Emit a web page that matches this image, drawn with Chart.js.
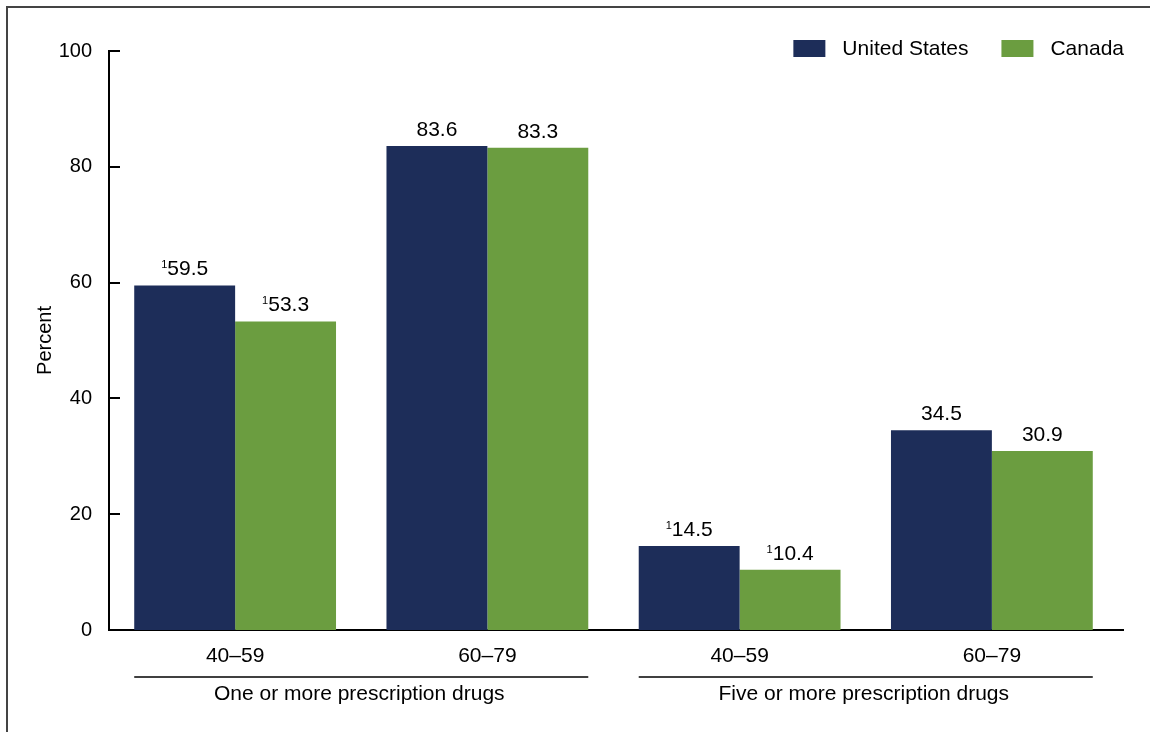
<!DOCTYPE html>
<html lang="en">
<head>
<meta charset="UTF-8">
<title>prescription drugs chart</title>
<script src="https://cdn.jsdelivr.net/npm/chart.js"></script>
<style>
  body { margin: 0; background: #fff; }
  #wrap { position: relative; width: 1150px; height: 732px; }
  #frame { position: absolute; left: 6px; top: 6px; right: 0; bottom: 0;
           border-left: 2px solid #444; border-top: 2px solid #444; pointer-events: none; }
</style>
</head>
<body>
<div id="wrap">
  <canvas id="myChart" width="1150" height="732"></canvas>
  <div id="frame"></div>
</div>
<script>
// age group tick labels and the two drug-count groups under them
const ageLabels = ['40–59', '60–79', '40–59', '60–79'];
const groupLabels = ['One or more prescription drugs', 'Five or more prescription drugs'];
const usValues = [59.5, 83.6, 14.5, 34.5];
const canadaValues = [53.3, 83.3, 10.4, 30.9];
// footnote 1 marker on these bars
const usNote = [true, false, true, false];
const canadaNote = [true, false, true, false];
const yTicks = [0, 20, 40, 60, 80, 100];

const FONT = '"Liberation Sans", Arial, sans-serif';
Chart.defaults.font.family = FONT;
Chart.defaults.color = '#000';

const notes = [usNote, canadaNote];

const extras = {
  id: 'extras',
  afterDraw(chart) {
    const ctx = chart.ctx;
    const area = chart.chartArea;
    const y = chart.scales.y;
    const axisX = area.left - 1;
    ctx.save();
    // inward tick marks on y axis
    ctx.strokeStyle = '#000';
    ctx.lineWidth = 2;
    yTicks.forEach(v => {
      const py = Math.round(y.getPixelForValue(v));
      ctx.beginPath();
      ctx.moveTo(axisX, py);
      ctx.lineTo(axisX + 12, py);
      ctx.stroke();
    });
    // x axis runs a bit past the last bar
    const by = Math.round(area.bottom);
    ctx.beginPath();
    ctx.moveTo(area.right - 1, by);
    ctx.lineTo(area.right + 6, by);
    ctx.stroke();

    // value labels with superscript footnotes
    chart.data.datasets.forEach((ds, di) => {
      const meta = chart.getDatasetMeta(di);
      meta.data.forEach((bar, i) => {
        const txt = ds.data[i].toFixed(1);
        const base = bar.y - 10;
        ctx.font = '21px ' + FONT;
        const mw = ctx.measureText(txt).width;
        let sw = 0;
        if (notes[di][i]) {
          ctx.font = '11px ' + FONT;
          sw = ctx.measureText('1').width;
        }
        const x0 = bar.x - (mw + sw) / 2;
        ctx.fillStyle = '#000';
        ctx.textAlign = 'left';
        ctx.textBaseline = 'alphabetic';
        if (sw) {
          ctx.font = '11px ' + FONT;
          ctx.fillText('1', x0, base - 7);
        }
        ctx.font = '21px ' + FONT;
        ctx.fillText(txt, x0 + sw, base);
      });
    });

    // group underlines and labels
    const m0 = chart.getDatasetMeta(0).data;
    const m1 = chart.getDatasetMeta(1).data;
    ctx.lineWidth = 1.5;
    ctx.strokeStyle = '#000';
    groupLabels.forEach((g, gi) => {
      const a = m0[gi * 2], b = m1[gi * 2 + 1];
      const x1 = a.x - a.width / 2, x2 = b.x + b.width / 2;
      ctx.beginPath();
      ctx.moveTo(x1, 677);
      ctx.lineTo(x2, 677);
      ctx.stroke();
      ctx.font = '21px ' + FONT;
      ctx.textAlign = 'center';
      ctx.textBaseline = 'middle';
      ctx.fillText(g, (x1 + x2) / 2 - 2, 694);
    });

    // legend, top right
    ctx.font = '21px ' + FONT;
    ctx.textBaseline = 'middle';
    ctx.textAlign = 'left';
    let right = area.right + 6;
    const items = chart.data.datasets.slice().reverse();
    items.forEach(ds => {
      const w = ctx.measureText(ds.label).width;
      const tx = right - w;
      const bx = tx - 17 - 32;
      ctx.fillStyle = ds.backgroundColor;
      ctx.fillRect(bx, 40, 32, 17);
      ctx.fillStyle = '#000';
      ctx.fillText(ds.label, tx, 49);
      right = bx - 33;
    });
    ctx.restore();
  }
};

const ctx = document.getElementById('myChart').getContext('2d');
const myChart = new Chart(ctx, {
  type: 'bar',
  data: {
    labels: ageLabels,
    datasets: [
      { label: 'United States', data: usValues, backgroundColor: '#1d2d59' },
      { label: 'Canada', data: canadaValues, backgroundColor: '#6b9d40' }
    ]
  },
  options: {
    responsive: false,
    animation: false,
    devicePixelRatio: 1,
    categoryPercentage: 0.8,
    barPercentage: 1.0,
    layout: { padding: { top: 51, right: 32, left: 0, bottom: 0 } },
    plugins: {
      legend: { display: false },
      tooltip: { enabled: false }
    },
    scales: {
      x: {
        grid: { display: false, drawTicks: false },
        border: { display: true, color: '#000', width: 2 },
        ticks: { font: { size: 21 }, color: '#000', padding: 14 },
        afterFit(scale) { scale.height = 102; }
      },
      y: {
        min: 0,
        max: 100,
        grid: { display: false, drawTicks: false },
        border: { display: true, color: '#000', width: 2 },
        ticks: { stepSize: 20, font: { size: 20 }, color: '#000', padding: 17 },
        title: { display: true, text: 'Percent', font: { size: 20 }, color: '#000', padding: { top: 33, bottom: 0 } },
        afterFit(scale) { scale.width = 109; }
      }
    }
  },
  plugins: [extras]
});
</script>
</body>
</html>
